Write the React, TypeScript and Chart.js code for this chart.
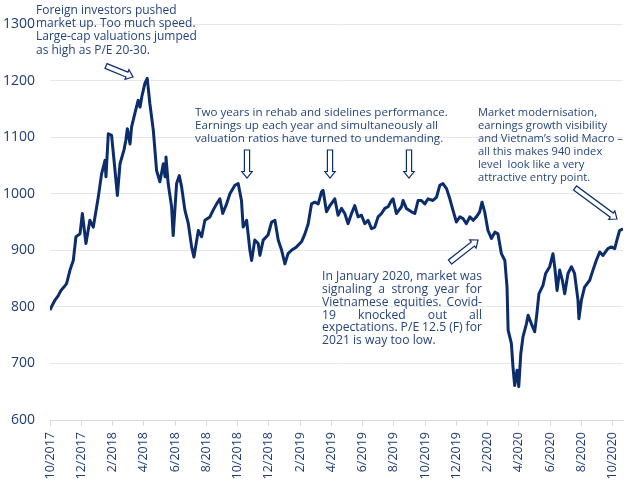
import React, { useEffect, useRef } from 'react';
import { Chart, registerables } from 'chart.js';

Chart.register(...registerables);

// Two-month tick labels (x axis measured in months since Oct 2017)
const tickLabels = [
  '10/2017', '12/2017', '2/2018', '4/2018', '6/2018', '8/2018', '10/2018', '12/2018',
  '2/2019', '4/2019', '6/2019', '8/2019', '10/2019', '12/2019', '2/2020', '4/2020',
  '6/2020', '8/2020', '10/2020',
];
const tickMonths = tickLabels.map((_, i) => i * 2);

// Months since 1 Oct 2017
const months = [
  0, 0.13, 0.32, 0.51, 0.7, 0.89, 1.06, 1.28, 1.49, 1.66, 1.92, 2.07, 2.3, 2.55, 2.77, 3.09,
  3.3, 3.52, 3.58, 3.73, 3.94, 4.16, 4.31, 4.48, 4.73, 4.85, 4.95, 5.12, 5.22, 5.43, 5.64, 5.76,
  5.87, 6.07, 6.22, 6.39, 6.61, 6.82, 7.03, 7.25, 7.36, 7.42, 7.56, 7.78, 7.88, 8.1, 8.27, 8.42,
  8.63, 8.85, 9.06, 9.21, 9.49, 9.7, 9.91, 10.23, 10.44, 10.66, 10.87, 11.05, 11.3, 11.51, 11.83,
  12.04, 12.25, 12.36, 12.58, 12.79, 12.9, 13.1, 13.32, 13.43, 13.64, 13.95, 14.18, 14.39, 14.6,
  14.82, 15.03, 15.23, 15.45, 15.77, 16.09, 16.31, 16.52, 16.73, 16.94, 17.16, 17.37, 17.47, 17.69,
  17.91, 18.22, 18.43, 18.65, 18.86, 19.07, 19.29, 19.5, 19.71, 19.93, 20.14, 20.35, 20.57, 20.78,
  20.99, 21.21, 21.42, 21.63, 21.85, 21.95, 22.16, 22.49, 22.59, 22.8, 23.13, 23.34, 23.55, 23.76,
  23.98, 24.19, 24.5, 24.73, 24.94, 25.14, 25.37, 25.58, 25.78, 26.0, 26.22, 26.43, 26.64, 26.86,
  27.07, 27.28, 27.49, 27.64, 27.81, 28.02, 28.24, 28.46, 28.66, 28.88, 29.1, 29.24, 29.31, 29.52,
  29.62, 29.73, 29.88, 29.99, 30.12, 30.26, 30.48, 30.59, 30.8, 31.01, 31.15, 31.28, 31.54, 31.71,
  31.97, 32.18, 32.29, 32.44, 32.61, 32.78, 32.93, 33.14, 33.36, 33.56, 33.78, 33.84, 34.0, 34.2,
  34.53, 34.74, 34.95, 35.17, 35.38, 35.69, 35.92, 36.13, 36.27, 36.44, 36.66,
];

// VN-Index level
const vnIndex = [
  794, 802, 812, 819, 829, 835, 841, 865, 882, 924, 929, 965, 912, 953, 941, 994,
  1035, 1059, 1030, 1106, 1103, 1041, 997, 1053, 1077, 1094, 1115, 1088, 1118, 1142, 1165, 1153,
  1171, 1195, 1204, 1159, 1112, 1041, 1021, 1053, 1030, 1065, 1018, 977, 926, 1018, 1032, 1012,
  971, 947, 906, 888, 935, 924, 953, 959, 971, 982, 991, 965, 982, 1000, 1015,
  1018, 988, 941, 953, 900, 882, 918, 912, 891, 918, 927, 950, 953, 918,
  900, 876, 894, 900, 906, 915, 929, 947, 982, 985, 982, 1003, 1006, 968,
  979, 991, 962, 974, 965, 947, 965, 979, 959, 962, 947, 953, 938, 941,
  959, 965, 974, 977, 988, 991, 965, 977, 988, 974, 968, 965, 988, 988,
  982, 991, 988, 994, 1015, 1018, 1009, 991, 971, 950, 959, 956, 947, 959,
  953, 959, 968, 985, 968, 935, 921, 932, 929, 894, 882, 835, 759, 735,
  694, 661, 688, 659, 717, 747, 770, 785, 770, 756, 788, 823, 838, 859,
  871, 894, 871, 829, 865, 847, 823, 859, 871, 859, 812, 779, 812, 835,
  847, 865, 882, 897, 891, 903, 906, 903, 918, 935, 938,
];

const yTicks = [600, 700, 800, 900, 1000, 1100, 1200, 1300];

const annTopLeft = [
  'Foreign investors pushed',
  'market up. Too much speed.',
  'Large-cap valuations jumped',
  'as high as P/E 20-30.',
];
const annMiddle = [
  'Two years in rehab and sidelines performance.',
  'Earnings up each year and simultaneously all',
  'valuation ratios have turned to undemanding.',
];
const annRight = [
  'Market modernisation,',
  'earnings growth visibility',
  'and Vietnam\u2019s solid Macro \u2013',
  'all this makes 940 index',
  'level  look like a very',
  'attractive entry point.',
];
const annBottom = [
  'In January 2020, market was',
  'signaling a strong year for',
  'Vietnamese equities.  Covid-',
  '19 knocked out all',
  'expectations. P/E 12.5 (F) for',
  '2021 is way too low.',
];

const LINE_COLOR = '#0c2d6b';
const TEXT_COLOR = '#26457c';
const AXIS_TEXT = '#1f3d74';
const FONT = '"Open Sans", "Noto Sans", sans-serif';

function fitSize(ctx: CanvasRenderingContext2D, lines: string[], target: number) {
  ctx.font = `12px ${FONT}`;
  const w = Math.max(...lines.map((l) => ctx.measureText(l).width));
  return (12 * target) / w;
}

function drawBlock(
  ctx: CanvasRenderingContext2D,
  lines: string[],
  x: number,
  y: number,
  lh: number,
  target: number,
  justify = false,
  fitLine?: number,
) {
  const size = fitSize(ctx, fitLine !== undefined ? [lines[fitLine]] : lines, target);
  ctx.font = `${size}px ${FONT}`;
  ctx.fillStyle = TEXT_COLOR;
  ctx.textBaseline = 'middle';
  ctx.textAlign = 'left';
  lines.forEach((line, i) => {
    const cy = y + i * lh;
    if (justify && i < lines.length - 1) {
      const words = line.split(/\s+/);
      const total = words.reduce((s, w) => s + ctx.measureText(w).width, 0);
      const gap = words.length > 1 ? (target - total) / (words.length - 1) : 0;
      let cx = x;
      words.forEach((w) => {
        ctx.fillText(w, cx, cy);
        cx += ctx.measureText(w).width + gap;
      });
    } else {
      ctx.fillText(line, x, cy);
    }
  });
}

function drawArrow(
  ctx: CanvasRenderingContext2D,
  x1: number,
  y1: number,
  x2: number,
  y2: number,
  shaft = 2.6,
  head = 5.2,
  headLen = 6.5,
) {
  const dx = x2 - x1;
  const dy = y2 - y1;
  const L = Math.hypot(dx, dy);
  const ux = dx / L;
  const uy = dy / L;
  const px = -uy;
  const py = ux;
  const bx = x2 - ux * headLen;
  const by = y2 - uy * headLen;
  ctx.beginPath();
  ctx.moveTo(x1 + px * shaft, y1 + py * shaft);
  ctx.lineTo(bx + px * shaft, by + py * shaft);
  ctx.lineTo(bx + px * head, by + py * head);
  ctx.lineTo(x2, y2);
  ctx.lineTo(bx - px * head, by - py * head);
  ctx.lineTo(bx - px * shaft, by - py * shaft);
  ctx.lineTo(x1 - px * shaft, y1 - py * shaft);
  ctx.closePath();
  ctx.fillStyle = '#ffffff';
  ctx.fill();
  ctx.lineWidth = 1.2;
  ctx.strokeStyle = LINE_COLOR;
  ctx.stroke();
}

const annotationPlugin = {
  id: 'annotations',
  afterDraw(chart: any) {
    const ctx: CanvasRenderingContext2D = chart.ctx;
    ctx.save();
    drawBlock(ctx, annTopLeft, 36, 10.5, 13.2, 161);
    drawBlock(ctx, annMiddle, 195, 113, 12.8, 253);
    drawBlock(ctx, annRight, 478, 113, 13, 145);
    drawBlock(ctx, annBottom, 322, 277, 12.7, 160, true, 0);

    drawArrow(ctx, 106, 66, 133, 77);
    drawArrow(ctx, 247, 150, 247, 178);
    drawArrow(ctx, 330, 150, 330, 178);
    drawArrow(ctx, 409, 150, 409, 178);
    drawArrow(ctx, 575, 188, 617, 219);
    drawArrow(ctx, 450, 262, 478, 240);
    ctx.restore();
  },
};

export default function App() {
  const ref = useRef<HTMLCanvasElement | null>(null);

  useEffect(() => {
    if (!ref.current) return;
    const data = months.map((m, i) => ({ x: m, y: vnIndex[i] }));
    const chart = new Chart(ref.current, {
      type: 'line',
      data: {
        datasets: [
          {
            data,
            borderColor: LINE_COLOR,
            borderWidth: 3,
            pointRadius: 0,
            tension: 0,
            fill: false,
            borderJoinStyle: 'round',
          },
        ],
      },
      options: {
        animation: false,
        responsive: true,
        maintainAspectRatio: false,
        layout: { padding: { top: 24, right: 17, left: 0, bottom: 0 } },
        plugins: {
          legend: { display: false },
          tooltip: { enabled: false },
        },
        scales: {
          x: {
            type: 'linear',
            min: 0,
            max: 36.66,
            afterBuildTicks: (scale: any) => {
              scale.ticks = tickMonths.map((v) => ({ value: v }));
            },
            afterFit: (scale: any) => {
              scale.height = 74;
            },
            border: { display: true, color: '#d9d9d9' },
            grid: {
              drawOnChartArea: false,
              drawTicks: true,
              tickLength: 6,
              color: '#d9d9d9',
            },
            ticks: {
              autoSkip: false,
              minRotation: 90,
              maxRotation: 90,
              padding: 6,
              color: AXIS_TEXT,
              font: { family: FONT, size: 12.5 },
              callback: (v: any) => {
                const idx = tickMonths.indexOf(Number(v));
                return idx >= 0 ? tickLabels[idx] : '';
              },
            },
          },
          y: {
            min: 600,
            max: 1300,
            afterBuildTicks: (scale: any) => {
              scale.ticks = yTicks.map((v) => ({ value: v }));
            },
            afterFit: (scale: any) => {
              scale.width = 50;
            },
            border: { display: false },
            grid: { color: '#e8e8e8', drawTicks: false, lineWidth: 1 },
            ticks: {
              padding: 15,
              color: AXIS_TEXT,
              font: { family: FONT, size: 14 },
              callback: (v: any) => String(v),
            },
          },
        },
      },
      plugins: [annotationPlugin],
    });
    return () => chart.destroy();
  }, []);

  return (
    <div style={{ position: 'fixed', left: 0, top: 0, width: 640, height: 494, background: '#fff' }}>
      <canvas ref={ref} />
    </div>
  );
}
